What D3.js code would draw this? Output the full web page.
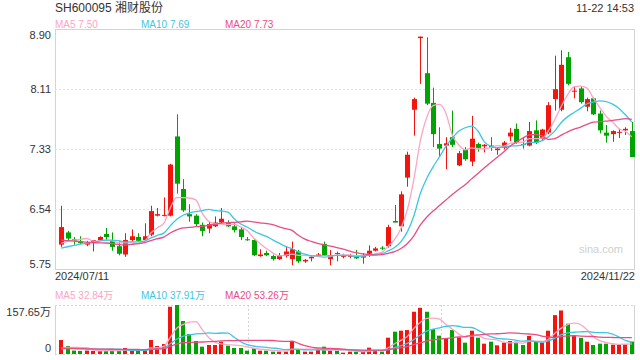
<!DOCTYPE html>
<html>
<head>
<meta charset="utf-8">
<script src="https://cdn.jsdelivr.net/npm/d3@7"></script>
<style>
  body { margin: 0; background: #fff; }
  svg { display: block; font-family: Arial, "Liberation Sans", "Noto Sans CJK SC", sans-serif; }
</style>
</head>
<body>
<div class="canvas"></div>
<script>
// daily k-line, 2024/07/11 - 2024/11/22
const opens  = [6.07,6.23,6.14,6.11,6.07,6.09,6.13,6.21,6.12,6.05, 5.94,6.13,6.17,6.13,6.20,6.45,6.45,6.45,7.49,6.80,
                6.47,6.45,6.33,6.28,6.31,6.36,6.36,6.31,6.27,6.14, 6.13,5.92,5.96,5.92,5.88,5.92,5.88,5.98,5.85,5.89,
                5.92,6.08,5.88,5.96,5.91,5.91,5.93,5.90,5.95,5.99, 6.03,6.05,6.38,6.31,6.95,7.84,8.78,8.32,7.93,7.39,
                7.37,7.48,7.11,7.32,7.16,7.39,7.36,7.37,7.31,7.34, 7.49,7.59,7.39,7.37,7.57,7.46,7.54,7.98,7.84,8.53,
                8.08,8.12,7.88,7.99,7.79,7.54,7.52,7.54,7.57,7.56];
const highs  = [6.58,6.25,6.17,6.18,6.12,6.13,6.18,6.29,6.23,6.11, 6.22,6.27,6.22,6.35,6.58,6.55,6.69,7.13,7.78,6.93,
                6.60,6.47,6.36,6.37,6.44,6.55,6.39,6.35,6.30,6.17, 6.14,6.01,5.99,5.94,5.96,6.04,6.11,6.00,5.88,5.93,
                5.96,6.11,6.00,5.98,5.95,5.95,6.00,5.96,6.06,6.04, 6.05,6.33,6.59,6.77,7.29,8.00,8.80,8.79,8.13,7.61,
                7.48,7.83,7.30,7.35,7.76,7.41,7.39,7.48,7.35,7.43, 7.60,7.66,7.48,7.68,7.70,7.59,7.94,8.55,8.62,8.60,
                8.15,8.15,8.00,8.00,7.83,7.64,7.57,7.59,7.61,7.68];
const lows   = [6.04,6.13,6.07,6.08,6.05,5.98,6.12,6.13,5.99,5.93, 5.91,6.11,6.11,6.12,6.18,6.44,6.44,6.44,6.74,6.50,
                6.37,6.31,6.18,6.22,6.30,6.35,6.30,6.23,6.13,6.12, 5.92,5.91,5.92,5.86,5.87,5.90,5.80,5.83,5.83,5.85,
                5.91,5.92,5.80,5.85,5.89,5.89,5.88,5.82,5.91,5.98, 6.00,6.03,6.36,6.24,6.83,7.50,8.18,7.90,7.35,7.22,
                7.06,7.35,7.10,7.17,7.10,7.29,7.28,7.30,7.25,7.32, 7.43,7.39,7.33,7.36,7.39,7.43,7.52,7.83,7.82,8.16,
                7.99,7.92,7.82,7.77,7.53,7.41,7.42,7.47,7.51,7.22];
const closes = [6.30,6.15,6.12,6.09,6.09,6.13,6.17,6.17,6.04,5.95, 6.13,6.18,6.12,6.18,6.51,6.47,6.46,7.12,6.87,6.52,
                6.44,6.34,6.25,6.34,6.36,6.41,6.31,6.26,6.17,6.13, 5.93,5.94,5.93,5.88,5.93,5.98,6.01,5.85,5.87,5.91,
                5.94,5.93,5.93,5.95,5.93,5.93,5.89,5.92,5.99,6.02, 6.02,6.30,6.36,6.73,7.25,7.98,8.80,7.92,7.52,7.33,
                7.40,7.38,7.27,7.19,7.46,7.34,7.38,7.34,7.33,7.41, 7.54,7.41,7.38,7.56,7.41,7.58,7.90,8.11,8.43,8.18,
                8.09,7.94,7.98,7.78,7.57,7.50,7.56,7.55,7.59,7.22];
// volume, 万手
const volumes = [45,25.7,11,10,11,10,10,11,12,10, 19.3,10.7,10.7,10.7,45,25.7,32,152,157.65,106,
                 64.3,41.8,23.6,29,29,39.6,26.8,19.3,19.3,10.7, 18,10.7,10.7,7.5,7.5,7.5,41.8,15,7.5,7.5,
                 14,23.6,10.7,10.7,4.3,7.5,7.5,7.5,20.4,12.9, 7.5,52.5,71.8,75,77,136,148.6,136,80.4,59,
                 50.4,77,53.6,36.5,75,52.5,33.2,39.6,27.9,36.5, 41.8,39.6,29,57.9,39.6,36.5,75,125,140,97.5,
                 60,52,39.6,29,33.2,33.2,30,30,31,40];
// sessions before 07/11, only needed so the moving averages start where the picture shows them
const prevCloses  = [6.28,6.25,6.22,6.26,6.24,6.20,6.23,6.21,6.22,6.22,5.98,5.95,5.92,5.96,6.00,6.02,6.05,6.03,6.04];
const prevVolumes = [22,20,18,25,16,19,21,17,20,15,18,14,16,19,12,11,10,12,12];

const priceTicks = ['5.75','6.54','7.33','8.11','8.90'];
const volTicks = ['0','157.65万'];
const dateLabels = ['2024/07/11','2024/11/22'];
const maNames = ['MA5','MA10','MA20'];
const maPeriods = [5,10,20];
const maColors = ['#fba6c4','#3fc6e3','#ea4c84'];
const maLegend = ['7.50','7.69','7.73'];
const volMaLegend = ['32.84万','37.91万','53.26万'];

const upColor = '#f3150d', downColor = '#00a300';

const svg = d3.select('.canvas')
  .append('svg')
    .attr('width',640)
    .attr('height',360);

const left = 55, right = 634;
const mainTop = 29, mainBottom = 269;
const volTop = 305, volBottom = 354;

const n = closes.length;
const x = d3.scaleBand()
  .domain(d3.range(n))
  .range([57, 636])
  .padding(0.3);
const cx = i => x(i) + x.bandwidth()/2;

const y = d3.scaleLinear()
  .domain([5.75, 8.90])
  .range([mainBottom, mainTop]);

const yv = d3.scaleLinear()
  .domain([0, 157.65])
  .range([volBottom, volTop]);

// moving average with the earlier sessions in front
function movingAvg(prev, vals, p){
  const all = prev.concat(vals);
  return vals.map((v,i) => d3.mean(all.slice(prev.length + i - p + 1, prev.length + i + 1)));
}

// header
svg.append('text').attr('x',55).attr('y',11.5)
  .attr('font-size',12).attr('fill','#333').text('SH600095 湘财股份');
svg.append('text').attr('x',634).attr('y',11.5).attr('text-anchor','end')
  .attr('font-size',11).attr('fill','#333').text('11-22 14:53');

const legendX = [55,141,225];
maNames.forEach((m,i) => {
  svg.append('text').attr('x',legendX[i]).attr('y',27.5)
    .attr('font-size',10).attr('fill',maColors[i]).text(m + ' ' + maLegend[i]);
  svg.append('text').attr('x',legendX[i]).attr('y',299)
    .attr('font-size',10).attr('fill',maColors[i]).text(m + ' ' + volMaLegend[i]);
});

// main frame and grid
const frame = svg.append('g').attr('stroke','#d4d4d4').attr('fill','none').attr('shape-rendering','crispEdges');
frame.append('rect').attr('x',left).attr('y',mainTop).attr('width',right-left).attr('height',mainBottom-mainTop);
priceTicks.forEach((t,i) => {
  const yy = y(+t);
  if(i > 0 && i < priceTicks.length-1){
    frame.append('line').attr('x1',left).attr('x2',right).attr('y1',Math.round(yy)).attr('y2',Math.round(yy))
      .attr('stroke','#e2e2e2').attr('stroke-dasharray','2,2');
  }
  const dy = i === 0 ? -1 : (i === priceTicks.length-1 ? 10 : 4);
  svg.append('text').attr('x',51).attr('y',yy + dy).attr('text-anchor','end')
    .attr('font-size',11).attr('fill','#333').text(t);
});

svg.append('text').attr('x',55).attr('y',280).attr('font-size',11).attr('fill','#333').text(dateLabels[0]);
svg.append('text').attr('x',635).attr('y',280).attr('text-anchor','end').attr('font-size',11).attr('fill','#333').text(dateLabels[1]);

svg.append('text').attr('x',623).attr('y',253).attr('text-anchor','end')
  .attr('font-size',11).attr('fill','#cfcfcf').text('sina.com');

// candles
const candles = svg.append('g').selectAll('g')
  .data(d3.range(n))
  .enter().append('g')
    .attr('fill', i => closes[i] >= opens[i] ? upColor : downColor)
    .attr('stroke', i => closes[i] >= opens[i] ? upColor : downColor);
candles.append('line')
  .attr('x1', i => Math.round(cx(i)) + 0.5).attr('x2', i => Math.round(cx(i)) + 0.5)
  .attr('y1', i => y(highs[i])).attr('y2', i => y(lows[i]))
  .attr('stroke-width',1);
candles.append('rect')
  .attr('x', i => Math.round(cx(i)) - 2)
  .attr('width', 5)
  .attr('y', i => y(Math.max(opens[i],closes[i])))
  .attr('height', i => Math.max(1, Math.abs(y(opens[i]) - y(closes[i]))))
  .attr('stroke','none');

// price moving averages
const line = d3.line()
  .x((d,i) => cx(i))
  .y(d => y(d))
  .curve(d3.curveMonotoneX);
maPeriods.forEach((p,k) => {
  svg.append('path')
    .attr('d', line(movingAvg(prevCloses, closes, p)))
    .attr('fill','none').attr('stroke',maColors[k]).attr('stroke-width',1.3);
});

// volume panel
const vframe = svg.append('g').attr('fill','none').attr('shape-rendering','crispEdges');
vframe.append('line').attr('x1',left).attr('x2',right).attr('y1',volTop).attr('y2',volTop)
  .attr('stroke','#d4d4d4').attr('stroke-dasharray','2,2');
vframe.append('line').attr('x1',left).attr('x2',right).attr('y1',volBottom).attr('y2',volBottom)
  .attr('stroke','#d4d4d4').attr('stroke-dasharray','2,2');
vframe.append('line').attr('x1',left).attr('x2',left).attr('y1',volTop).attr('y2',volBottom).attr('stroke','#d4d4d4');
vframe.append('line').attr('x1',right).attr('x2',right).attr('y1',volTop).attr('y2',volBottom).attr('stroke','#d4d4d4');
[1,2].forEach(k => {
  const xx = Math.round(left + (right-left)*k/3);
  vframe.append('line').attr('x1',xx).attr('x2',xx).attr('y1',volTop).attr('y2',volBottom)
    .attr('stroke','#d4d4d4').attr('stroke-dasharray','2,2');
});
svg.append('text').attr('x',51).attr('y',315.5).attr('text-anchor','end')
  .attr('font-size',11).attr('fill','#333').text(volTicks[1]);
svg.append('text').attr('x',51).attr('y',352).attr('text-anchor','end')
  .attr('font-size',11).attr('fill','#333').text(volTicks[0]);

svg.append('g').selectAll('rect')
  .data(volumes)
  .enter().append('rect')
    .attr('x', (d,i) => Math.round(cx(i)) - 2)
    .attr('width', 4)
    .attr('y', d => yv(d))
    .attr('height', d => yv(0) - yv(d))
    .attr('fill', (d,i) => closes[i] >= opens[i] ? upColor : downColor);

const vline = d3.line()
  .x((d,i) => cx(i))
  .y(d => yv(d))
  .curve(d3.curveMonotoneX);
maPeriods.forEach((p,k) => {
  svg.append('path')
    .attr('d', vline(movingAvg(prevVolumes, volumes, p)))
    .attr('fill','none').attr('stroke',maColors[k]).attr('stroke-width',1.3);
});
</script>
</body>
</html>
